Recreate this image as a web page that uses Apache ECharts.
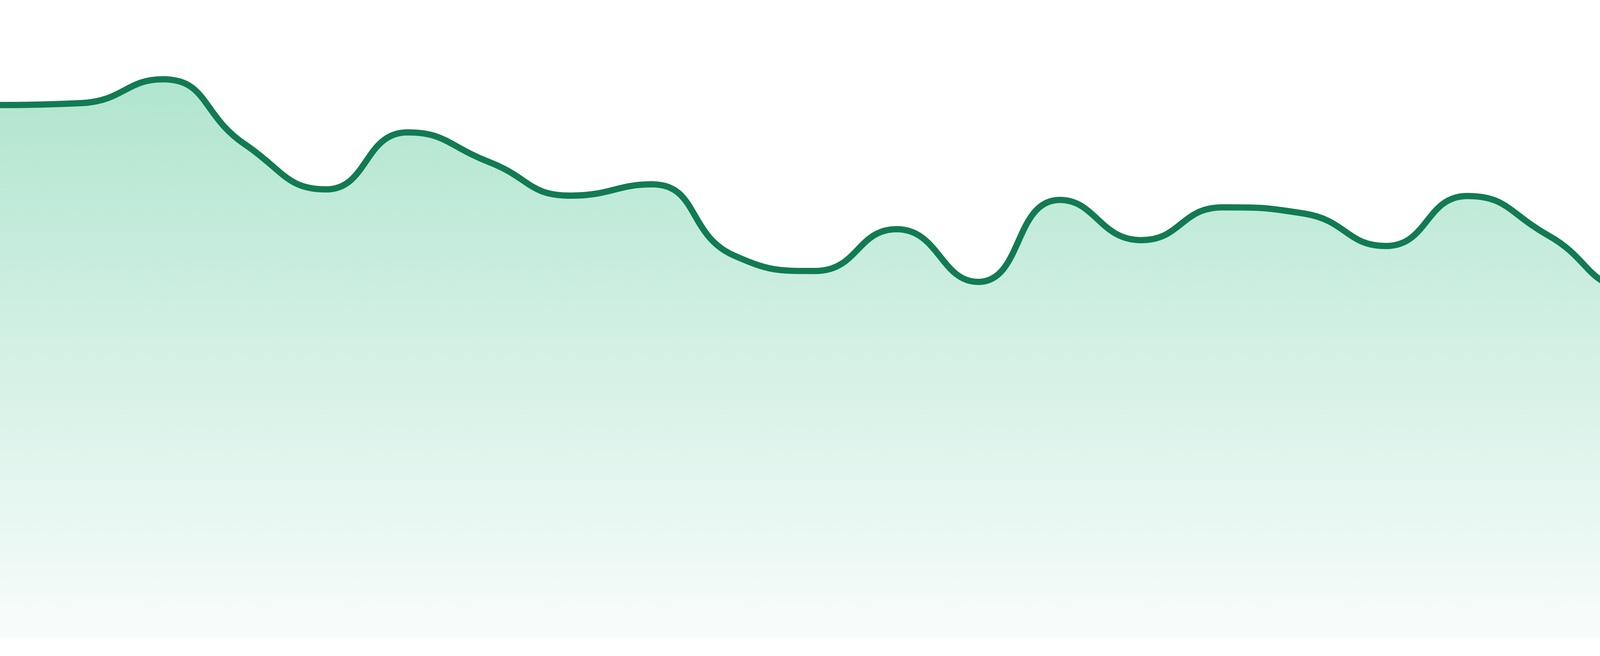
<!DOCTYPE html>
<html>
<head>
<meta charset="utf-8">
<script src="https://cdn.jsdelivr.net/npm/echarts@6/dist/echarts.min.js"></script>
<style>
  html, body { margin: 0; padding: 0; background: #ffffff; }
  #chart { width: 4800px; height: 1680px; }
</style>
</head>
<body>
<div id="chart"></div>
<script>
const categories = ['1','2','3','4','5','6','7','8','9','10','11','12','13','14','15','16','17','18','19','20','21','22','23','24'];
const values = [1363, 1368, 1429, 1263, 1147, 1293, 1217, 1131, 1160, 978, 938, 1045, 910, 1120, 1017, 1101, 1085, 1002, 1130, 1028, 896, 977, 981, 873];
const yMin = 0;
const yMax = 1632;

const chart = echarts.init(document.getElementById('chart'));
chart.setOption({
  animation: false,
  backgroundColor: '#ffffff',
  grid: { left: 0, right: 0, top: 0, bottom: 48 },
  xAxis: {
    type: 'category',
    data: categories,
    boundaryGap: false,
    show: false
  },
  yAxis: {
    type: 'value',
    min: yMin,
    max: yMax,
    show: false
  },
  series: [{
    type: 'line',
    data: values,
    smooth: true,
    symbol: 'none',
    lineStyle: { color: '#127b53', width: 16 },
    itemStyle: { color: '#127b53' },
    areaStyle: {
      opacity: 1,
      color: new echarts.graphic.LinearGradient(0, 0, 0, 1, [
        { offset: 0, color: '#b0e5cf' },
        { offset: 1, color: '#f8fcfb' }
      ])
    }
  }]
});
</script>
</body>
</html>
